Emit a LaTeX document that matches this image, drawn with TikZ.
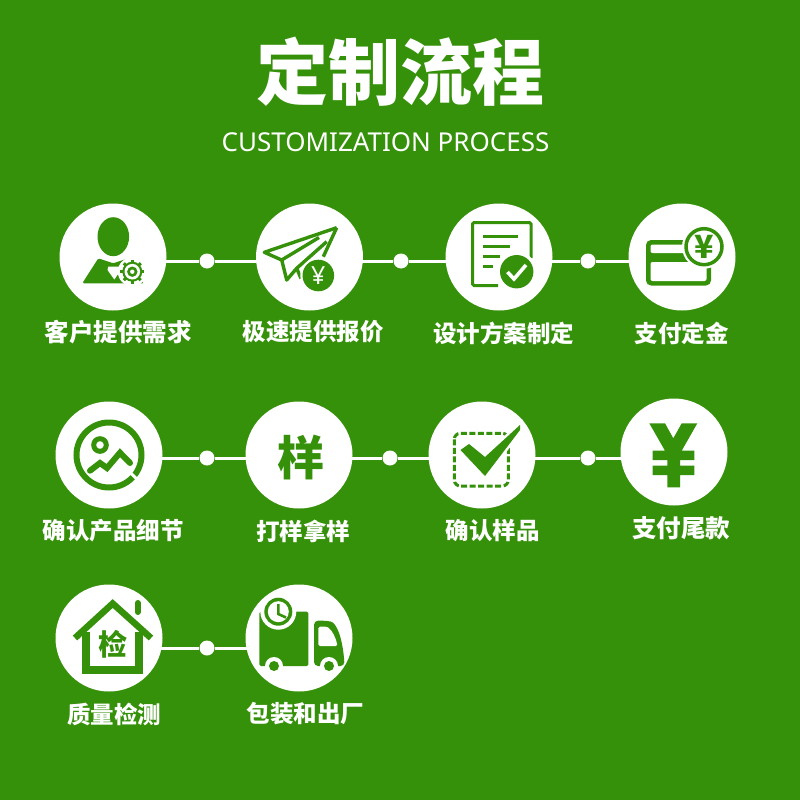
\documentclass[tikz,border=0pt]{standalone}
\usepackage{xcolor}
\usepackage{fontspec}
\usetikzlibrary{positioning,calc}
\setmainfont{Noto Sans}
\newfontfamily\cjk{Noto Sans CJK SC}
\definecolor{leaf}{HTML}{359109}
\tikzset{
    stepcircle/.style={circle, fill=white, minimum size=107pt, inner sep=0pt},
    linkdot/.style={circle, fill=white, minimum size=15pt, inner sep=0pt},
    link/.style={draw=white, line width=3pt},
    steplabel/.style={text=white, inner sep=0pt, font=\cjk\bfseries\fontsize{23.5}{26}\selectfont},
    iconline/.style={draw=leaf, line width=3pt},
    iconfill/.style={fill=leaf, draw=none},
    iconglyph/.style={text=leaf, inner sep=0pt, font=\cjk\bfseries}
}
\begin{document}
\begin{tikzpicture}[x=1pt, y=-1pt]
    \useasboundingbox (0,0) rectangle (800,800);
    \fill[leaf] (0,0) rectangle (800,800);
    % heading
    \node[text=white, inner sep=0pt, font=\cjk\bfseries\fontsize{72}{74}\selectfont] (title) at (400,72) {定制流程};
    \node[text=white, inner sep=0pt, font=\fontsize{26}{28}\selectfont] (subtitle) at (385.5,142) {CUSTOMIZATION PROCESS};
    % steps
    \node[stepcircle] (need) at (113,257) {};
    \node[stepcircle] (quote) at (309.5,257) {};
    \node[stepcircle] (design) at (499,257) {};
    \node[stepcircle] (deposit) at (682,257) {};
    \node[stepcircle] (detail) at (109,455) {};
    \node[stepcircle] (sample) at (299,455) {};
    \node[stepcircle] (confirm) at (482,455) {};
    \node[stepcircle] (balance) at (674,452) {};
    \node[stepcircle] (check) at (109,638) {};
    \node[stepcircle] (ship) at (299,638) {};
    % dots between the steps
    \node[linkdot] (d1) at (207,261) {};
    \node[linkdot] (d2) at (401,261) {};
    \node[linkdot] (d3) at (588,261) {};
    \node[linkdot] (d4) at (207,458) {};
    \node[linkdot] (d5) at (390,458) {};
    \node[linkdot] (d6) at (588,458) {};
    \node[linkdot] (d7) at (207,648) {};
    \draw[link] (need |- d1) -- (d1) -- (quote |- d1);
    \draw[link] (quote |- d2) -- (d2) -- (design |- d2);
    \draw[link] (design |- d3) -- (d3) -- (deposit |- d3);
    \draw[link] (detail |- d4) -- (d4) -- (sample |- d4);
    \draw[link] (sample |- d5) -- (d5) -- (confirm |- d5);
    \draw[link] (confirm |- d6) -- (d6) -- (balance |- d6);
    \draw[link] (check |- d7) -- (d7) -- (ship |- d7);
    % labels
    \node[steplabel, font=\cjk\bfseries\fontsize{24.5}{26}\selectfont] (l1) at (118,332) {客户提供需求};
    \node[steplabel] (l2) at (313,332) {极速提供报价};
    \node[steplabel] (l3) at (503.5,333) {设计方案制定};
    \node[steplabel] (l4) at (681.5,333) {支付定金};
    \node[steplabel] (l5) at (113,531) {确认产品细节};
    \node[steplabel] (l6) at (303,531) {打样拿样};
    \node[steplabel] (l7) at (492.5,531) {确认样品};
    \node[steplabel, font=\cjk\bfseries\fontsize{24.5}{26}\selectfont] (l8) at (681,528) {支付尾款};
    \node[steplabel] (l9) at (114,714) {质量检测};
    \node[steplabel] (l10) at (305.5,714) {包装和出厂};
    % person with gear
    \fill[iconfill] (113.3,236.7) ellipse (15.8 and 19.5);
    \fill[iconfill, rounded corners=1.5pt] (82.3,283.3) -- (98.3,258.3) -- (113.3,263.3) -- (126,259) -- (144,283.3) -- cycle;
    \fill[white] (108.3,266.7) -- (120,266.7) -- (121,270) -- (114.3,279.5) -- (107.5,270) -- cycle;
    \fill[white] (132.3,271.7) circle (14.5);
    \foreach \a in {0,45,...,315}
        \draw[iconline] (132.3,271.7) ++(\a:8) -- ++(\a:4);
    \fill[iconfill] (132.3,271.7) circle (10);
    \fill[white] (132.3,271.7) circle (7.8);
    \fill[iconfill] (132.3,271.7) circle (5.2);
    \fill[white] (132.3,271.7) circle (2.2);
    % paper plane and coin
    \draw[iconline, line width=3.4pt, line join=round] (336.7,227.7) -- (264.3,252.3) -- (281.7,260) -- (286.7,280) -- (296.7,268.3) -- (326.7,241.7);
    \draw[iconline, line width=3.4pt] (281.7,260) -- (319,237.5);
    \draw[iconline, line width=3.4pt] (336.7,227.7) -- (323.3,256.7);
    \draw[iconline, line width=3.4pt] (296.7,268.3) -- (301,278.5);
    \fill[white] (318.3,275.5) circle (18);
    \fill[iconfill] (318.3,275.5) circle (15.8);
    \node[text=white, inner sep=0pt, font=\fontsize{25}{25}\selectfont] (coinyen) at (318.3,275.5) {¥};
    % document with tick
    \draw[iconline, rounded corners=1.5pt] (498,285.5) -- (472.5,285.5) -- (472.5,222.5) -- (531,222.5) -- (531,258);
    \draw[iconline] (483,236.7) -- (518,236.7);
    \draw[iconline] (483,246.7) -- (510,246.7);
    \draw[iconline] (483,256.7) -- (500,256.7);
    \draw[iconline] (483,266) -- (493,266);
    \fill[white] (516.7,271.7) circle (20);
    \fill[iconfill] (516.7,271.7) circle (16.7);
    \draw[draw=white, line width=3.6pt] (507.5,272) -- (514,279) -- (526,265);
    % card and coin
    \fill[iconfill, rounded corners=5pt] (646,240) rectangle (711,285.5);
    \fill[white, rounded corners=2pt] (650.5,244.5) rectangle (690,253);
    \fill[white, rounded corners=2pt] (650.5,262) rectangle (706.5,281);
    \fill[white] (704,246.7) circle (22);
    \draw[iconline, fill=white, line width=3.5pt] (704,246.7) circle (18);
    \node[iconglyph, font=\cjk\bfseries\fontsize{32}{32}\selectfont] (cardyen) at (704,246.5) {¥};
    % picture in a ring
    \draw[iconline, line width=6pt] (detail) circle (32.5);
    \draw[draw=white, line width=3pt] (130,472.5) -- (138,480);
    \draw[iconline, line width=5pt] (100,445) circle (6.3);
    \draw[iconline, line width=6pt, line cap=round, line join=miter] (90,470.7) -- (100,463) -- (107,468) -- (120,452.7) -- (130,463);
    % sample glyph
    \node[iconglyph, font=\cjk\bfseries\fontsize{47}{47}\selectfont] (yang) at (300.5,457.5) {样};
    % dashed box and tick
    \draw[iconline, dashed, dash pattern=on 6pt off 2.5pt, rounded corners=6pt] (454.3,433.3) rectangle (508.3,486);
    \draw[draw=white, line width=5pt, fill=white, line join=miter] (460.5,450) -- (469,444) -- (485,457) -- (520,425) -- (520,430) -- (485,476) -- cycle;
    \fill[iconfill] (460.5,450) -- (469,444) -- (485,457) -- (520,425) -- (520,430) -- (485,476) -- cycle;
    % big yen
    \fill[iconfill] (649.3,423.3) -- (665,423.3) -- (673.3,438.3) -- (681.7,423.3) -- (697.3,423.3) -- (681.7,450.7) -- (694.3,450.7) -- (694.3,460) -- (680,460) -- (680,465.7) -- (694.3,465.7) -- (694.3,475) -- (680,475) -- (680,487.3) -- (667.3,487.3) -- (667.3,475) -- (652.7,475) -- (652.7,465.7) -- (667.3,465.7) -- (667.3,460) -- (652.7,460) -- (652.7,450.7) -- (665,450.7) -- cycle;
    % house
    \draw[iconline, line width=8pt] (85.5,632) -- (85.5,669.7) -- (139,669.7) -- (139,632);
    \draw[iconline, line width=6.5pt] (75,638) -- (112.7,603.5) -- (151,638);
    \draw[iconline, line width=6pt, line cap=round] (137.7,603) -- (137.7,612);
    \node[iconglyph, font=\cjk\bfseries\fontsize{29}{29}\selectfont] (jian) at (112.7,644) {检};
    % lorry with clock
    \fill[iconfill, rounded corners=1.5pt] (259.3,611.7) rectangle (308.3,666);
    \fill[iconfill, rounded corners=4pt] (314,620.7) -- (327,620.7) .. controls (337,623) and (343,640) .. (344.5,666) -- (314,666) -- cycle;
    \fill[white, rounded corners=1.5pt] (318.3,626.7) -- (327,626.7) .. controls (332,630) and (336,638) .. (337.5,646) -- (318.3,646) -- cycle;
    \fill[white] (278.3,611.7) circle (18);
    \fill[iconfill] (278.3,611.7) circle (14);
    \fill[white] (278.3,611.7) circle (10.5);
    \draw[iconline, line width=2.6pt] (278.3,604) -- (278.3,614) -- (286,617.5);
    \foreach \wx in {274,329} {
        \fill[white] (\wx,666) circle (9);
        \fill[iconfill] (\wx,666) circle (5);
    }
\end{tikzpicture}
\end{document}
